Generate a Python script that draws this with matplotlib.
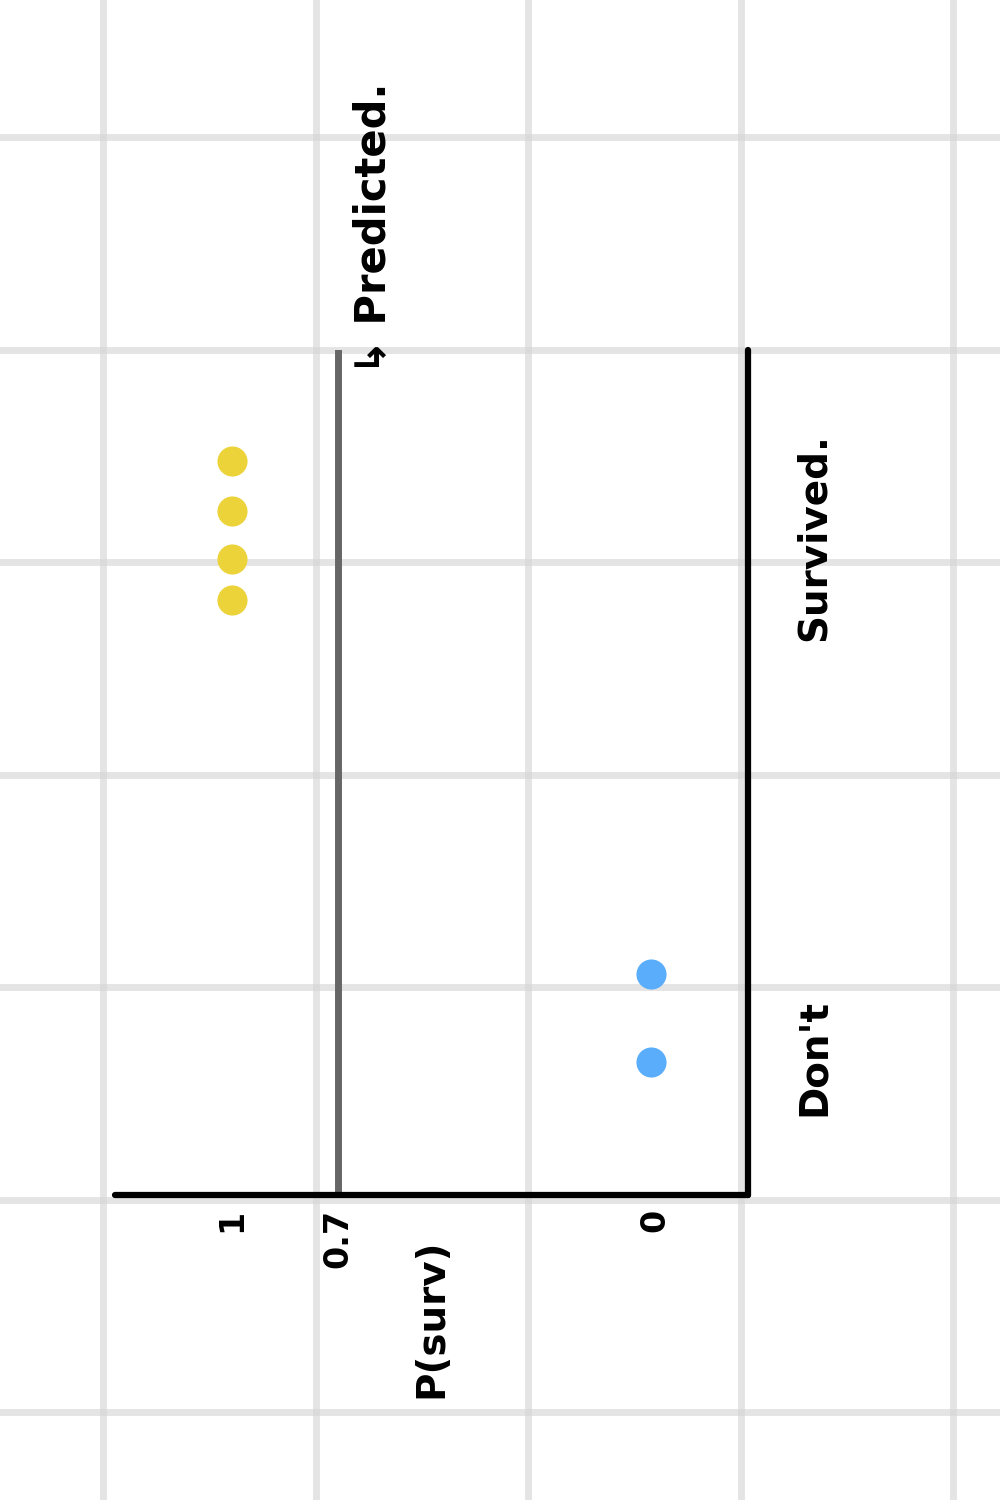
import numpy as np
import matplotlib.pyplot as plt

p_survived = [1.0, 1.0, 1.0, 1.0]
pos_survived = [7.34, 6.84, 6.36, 5.95]
p_dont = [0.01, 0.01]
pos_dont = [2.21, 1.33]

threshold = 0.75           # posición de la línea dibujada a mano
tick_values = [1, threshold, 0]
tick_labels = ['1', '0.7', '0']
group_labels = ['Survived.', "Don't"]
group_label_pos = [6.58, 1.38]

YELLOW = '#EDD33A'
BLUE = '#5AADFA'
GRID = '#d6d6d6'

fig = plt.figure(figsize=(10, 15), dpi=100)

# Cuadrícula de fondo (papel)
bg = fig.add_axes([0, 0, 1, 1], zorder=0)
bg.set_xlim(0, 1000)
bg.set_ylim(1500, 0)
for gx in np.arange(103, 1000, 212.5):
    bg.axvline(gx, color=GRID, lw=5, alpha=0.65)
for gy in np.arange(137, 1500, 212.5):
    bg.axhline(gy, color=GRID, lw=5, alpha=0.65)
bg.axis('off')

ax = fig.add_axes([0.115, 1 - 1195 / 1500, 0.633, 845 / 1500], zorder=1)
ax.patch.set_alpha(0)
ax.set_xlim(1.2766, -0.2199)
ax.set_ylim(0, 8.45)

for side in ['top', 'left']:
    ax.spines[side].set_visible(False)
for side in ['bottom', 'right']:
    ax.spines[side].set_linewidth(4.5)
    ax.spines[side].set_color('black')
    ax.spines[side].set_capstyle('round')

ax.axvline(threshold, color='#666666', lw=5, solid_capstyle='round', zorder=2)

ax.scatter(p_survived, pos_survived, s=470, color=YELLOW, zorder=3, linewidths=0)
ax.scatter(p_dont, pos_dont, s=470, color=BLUE, zorder=3, linewidths=0)

ax.set_xticks(tick_values)
ax.set_xticklabels(tick_labels, rotation=90, fontsize=24, fontweight='bold')
ax.tick_params(axis='x', length=0, pad=10)
ax.set_yticks([])
ax.set_xlabel('P(surv)', rotation=90, fontsize=28, fontweight='bold')
ax.xaxis.label.set_va('center')
ax.xaxis.set_label_coords(0.5, -0.146)

for lab, yv in zip(group_labels, group_label_pos):
    ax.text(-0.375, yv, lab, rotation=90, fontsize=28, fontweight='bold',
            ha='center', va='center', clip_on=False)

ax.text(0.665, 9.67, '↳ Predicted.', rotation=90, fontsize=30, fontweight='bold',
        ha='center', va='center', clip_on=False)

fig.savefig('out.png', dpi=100)
